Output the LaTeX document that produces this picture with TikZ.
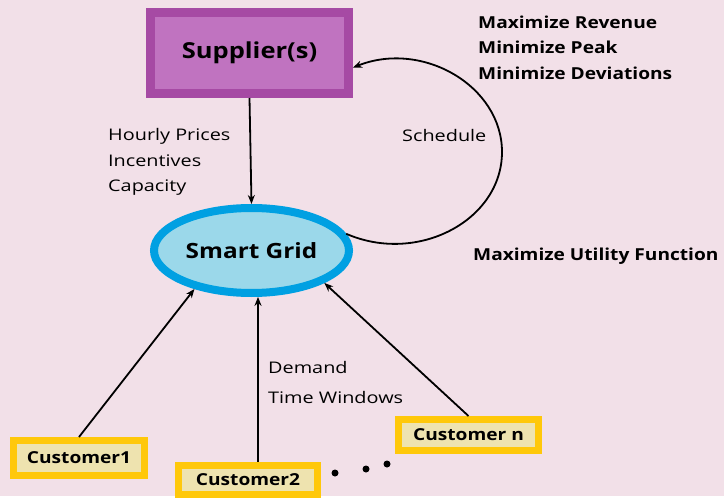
\documentclass[tikz,border=0pt]{standalone}
\usepackage{fontspec}
\setmainfont{Open Sans}[FakeStretch=1.24,BoldFeatures={FakeStretch=1.16}]
\usetikzlibrary{shapes.geometric,arrows.meta}

\definecolor{bgpink}{RGB}{242,224,232}
\definecolor{supedge}{RGB}{166,74,164}
\definecolor{supfill}{RGB}{192,115,192}
\definecolor{gridedge}{RGB}{0,160,226}
\definecolor{gridfill}{RGB}{155,216,234}
\definecolor{custedge}{RGB}{255,200,10}
\definecolor{custfill}{RGB}{238,227,175}

\begin{document}
\begin{tikzpicture}[x=1pt,y=-1pt,
  supbox/.style={draw=supedge,fill=supfill,line width=9pt,minimum width=198pt,minimum height=81pt,font=\fontsize{22}{26}\selectfont\bfseries},
  gridell/.style={ellipse,draw=gridedge,fill=gridfill,line width=8pt,inner sep=0pt,minimum width=195pt,minimum height=85pt,font=\fontsize{21}{24}\selectfont\bfseries},
  custbox/.style={draw=custedge,fill=custfill,line width=7pt,minimum height=35pt,font=\fontsize{16.5}{20}\selectfont\bfseries},
  lbl/.style={anchor=base west,inner sep=0pt,font=\fontsize{16}{19}\selectfont},
  goal/.style={anchor=base west,inner sep=0pt,font=\fontsize{16.5}{19}\selectfont\bfseries},
  conn/.style={-{Stealth[length=9pt,width=7pt]},line width=1.8pt}]
% Parameters
\def\supx{249.5}; \def\supy{53};
\def\gridx{251.5}; \def\gridy{250.5};

% Background
\fill[bgpink] (0,0) rectangle (724,496);

% Nodes
\node[supbox] (sup) at (\supx,\supy) {Supplier(s)};
\node[gridell] (grid) at (\gridx,\gridy) {Smart Grid};
\node[custbox,minimum width=131pt] (cOne) at (79,458) {Customer1};
\node[custbox,minimum width=139pt,minimum height=29pt] (cTwo) at (248,479.5) {Customer2};
\node[custbox,minimum width=140pt,minimum height=31pt] (cN) at (468.5,435) {Customer n};
\coordinate (loop) at (502,152);

% Labels
\node[lbl] (hp) at (108,141) {Hourly Prices};
\node[lbl] (inc) at (108,166) {Incentives};
\node[lbl] (cap) at (108,191) {Capacity};
\node[lbl] (sch) at (402,142) {Schedule};
\node[lbl] (dem) at (268,373) {Demand};
\node[lbl] (tw) at (268,403) {Time Windows};
\node[goal] (rev) at (478,29) {Maximize Revenue};
\node[goal] (peak) at (478,54) {Minimize Peak};
\node[goal] (dev) at (478,80) {Minimize Deviations};
\node[goal] (util) at (473,260) {Maximize Utility Function};

% Connectors
\draw[conn] (sup.south) -- (grid.north);
\draw[conn] (grid.10) .. controls (418,265) and (502,220) .. (loop)
  .. controls (502,86) and (422.5,40) .. (sup.-8);
\draw[conn] (cOne.north) -- (grid.214);
\draw[conn] (cTwo.north -| grid.-82) -- (grid.-82);
\draw[conn] (cN.north) -- (grid.-24);

% Dots
\fill (335,473) circle (3.5) (366,469) circle (3.5) (387,464) circle (3.5);
\end{tikzpicture}
\end{document}
